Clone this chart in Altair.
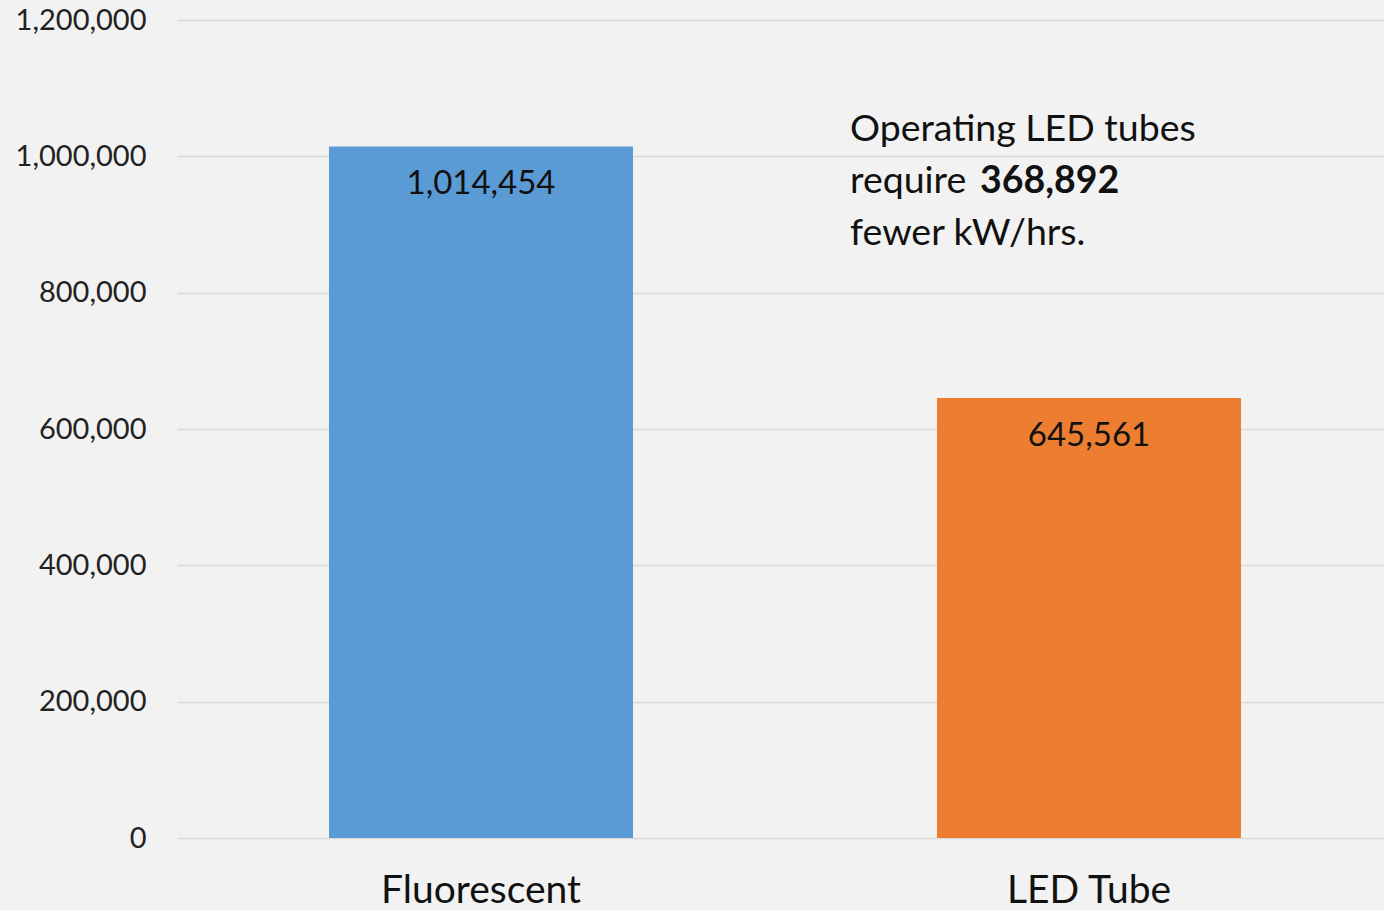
import altair as alt
import pandas as pd

categories = ["Fluorescent", "LED Tube"]
values = [1014454, 645561]
labels = ["1,014,454", "645,561"]
colors = ["#5b9bd5", "#ed7d31"]
y_ticks = [0, 200000, 400000, 600000, 800000, 1000000, 1200000]

df = pd.DataFrame({"cat": categories, "val": values, "lab": labels, "col": colors})

FONT = "Lato"

x = alt.X("cat:N", sort=categories,
          scale=alt.Scale(paddingInner=0.5, paddingOuter=0.25, range=[0, 1216]),
          axis=alt.Axis(title=None, labelAngle=0, labelFontSize=39, labelColor="#111111",
                        labelFont=FONT, ticks=False, domain=False, labelPadding=33,
                        labelLimit=600))
y = alt.Y("val:Q", scale=alt.Scale(domain=[0, 1200000], nice=False),
          axis=alt.Axis(title=None, values=y_ticks, format=",.0f",
                        labelExpr="format(datum.value, ',')", labelFontSize=29,
                        labelFont=FONT, labelColor="#222222", ticks=False, domain=False,
                        labelPadding=31, gridColor="#d9d9d9", gridWidth=1.5))

bars = alt.Chart(df).mark_bar().encode(
    x=x, y=y, color=alt.Color("col:N", scale=None)
)

bar_text = alt.Chart(df).mark_text(baseline="middle", dy=38, fontSize=33, font=FONT, color="#111111").encode(
    x=x, y=y, text="lab:N"
)

FS = 37.5
L = 850 - 177
T = -20
line1 = alt.Chart(pd.DataFrame({"t": ["Operating LED tubes"]})).mark_text(
    align="left", baseline="alphabetic", fontSize=FS, font=FONT, color="#111111"
).encode(x=alt.value(L), y=alt.value(141 + T), text="t:N")
line2 = alt.Chart(pd.DataFrame({"t": ["require"]})).mark_text(
    align="left", baseline="alphabetic", fontSize=FS, font=FONT, color="#111111"
).encode(x=alt.value(L), y=alt.value(193 + T), text="t:N")
bold = alt.Chart(pd.DataFrame({"t": ["368,892"]})).mark_text(
    align="left", baseline="alphabetic", fontSize=FS, font=FONT, fontWeight="bold", color="#111111"
).encode(x=alt.value(980 - 177), y=alt.value(193 + T), text="t:N")
line3 = alt.Chart(pd.DataFrame({"t": ["fewer kW/hrs."]})).mark_text(
    align="left", baseline="alphabetic", fontSize=FS, font=FONT, color="#111111"
).encode(x=alt.value(L), y=alt.value(245 + T), text="t:N")

chart = alt.layer(bars, bar_text, line1, line2, bold, line3).properties(
    width=1207, height=818,
    autosize=alt.AutoSizeParams(type="none"),
    padding={"left": 177, "top": 20, "right": 0, "bottom": 72},
    background="#f2f2f2",
).configure_view(stroke=None)

chart.save("out.html", embed_options={"renderer": "svg", "actions": False})
